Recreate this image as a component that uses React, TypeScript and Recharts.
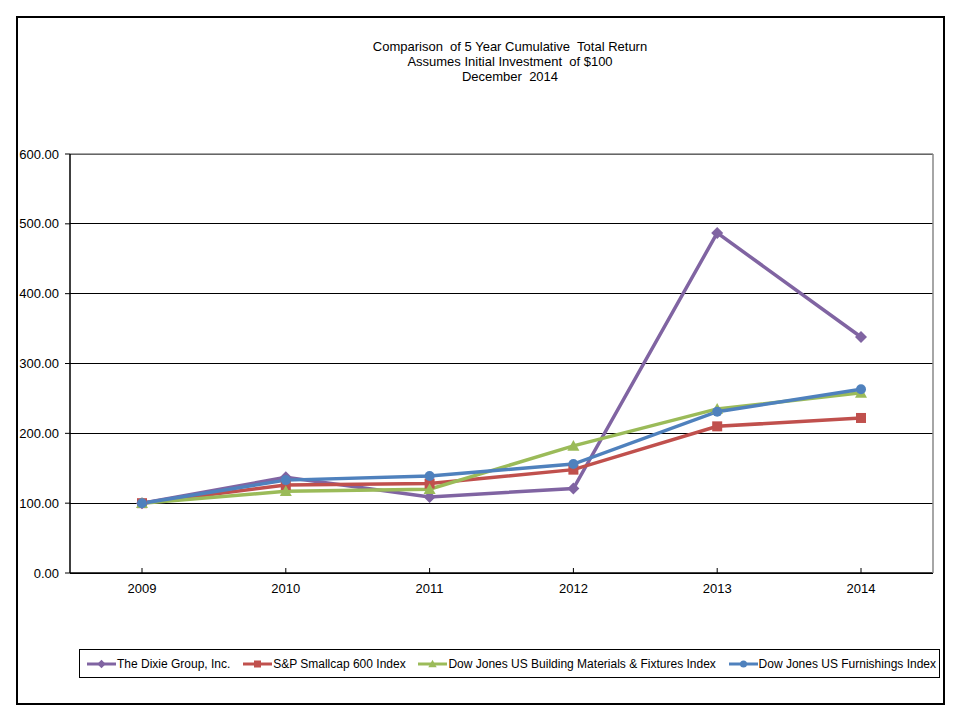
import React from 'react';
import {
  LineChart,
  Line,
  XAxis,
  YAxis,
  CartesianGrid,
  ReferenceLine,
} from 'recharts';

const YEARS = ['2009', '2010', '2011', '2012', '2013', '2014'];
const DIXIE = [100, 137, 109, 121, 487, 338];
const SP600 = [100, 126, 128, 148, 210, 222];
const BUILDING = [100, 117, 120, 182, 235, 258];
const FURNISHINGS = [100, 133, 139, 156, 231, 263];
const Y_TICKS = [0, 100, 200, 300, 400, 500, 600];
const TITLE_LINES = [
  'Comparison  of 5 Year Cumulative  Total Return',
  'Assumes Initial Investment  of $100',
  'December  2014',
];

type MarkerKind = 'diamond' | 'square' | 'triangle' | 'circle';

const SERIES: { key: string; name: string; color: string; marker: MarkerKind; values: number[] }[] = [
  { key: 'dixie', name: 'The Dixie Group, Inc.', color: '#8064A2', marker: 'diamond', values: DIXIE },
  { key: 'sp600', name: 'S&P Smallcap 600 Index', color: '#C0504D', marker: 'square', values: SP600 },
  { key: 'building', name: 'Dow Jones US Building Materials & Fixtures Index', color: '#9BBB59', marker: 'triangle', values: BUILDING },
  { key: 'furnishings', name: 'Dow Jones US Furnishings Index', color: '#4F81BD', marker: 'circle', values: FURNISHINGS },
];

const chartData = YEARS.map((year, i) => {
  const row: Record<string, string | number> = { year };
  SERIES.forEach((s) => {
    row[s.key] = s.values[i];
  });
  return row;
});

const FONT = '"Liberation Sans", Arial, sans-serif';

function Marker({ kind, cx, cy, color, s = 1 }: { kind: MarkerKind; cx: number; cy: number; color: string; s?: number }) {
  if (kind === 'diamond') {
    const r = 6 * s;
    return <polygon points={`${cx},${cy - r} ${cx + r},${cy} ${cx},${cy + r} ${cx - r},${cy}`} fill={color} />;
  }
  if (kind === 'square') {
    const r = 5 * s;
    return <rect x={cx - r} y={cy - r} width={2 * r} height={2 * r} fill={color} />;
  }
  if (kind === 'triangle') {
    const r = 6 * s;
    return <polygon points={`${cx},${cy - r} ${cx + r},${cy + r * 0.8} ${cx - r},${cy + r * 0.8}`} fill={color} />;
  }
  return <circle cx={cx} cy={cy} r={5 * s} fill={color} />;
}

function makeDot(kind: MarkerKind, color: string) {
  return (props: any) => {
    const { cx, cy, index } = props;
    if (cx == null || cy == null) return <g key={`d-${index}`} />;
    return (
      <g key={`d-${kind}-${index}`}>
        <Marker kind={kind} cx={cx} cy={cy} color={color} />
      </g>
    );
  };
}

export default function App() {
  return (
    <div style={{ position: 'absolute', left: 0, top: 0, width: 960, height: 720, background: '#fff', fontFamily: FONT }}>
      <div
        style={{
          position: 'absolute',
          left: 16,
          top: 16,
          width: 929,
          height: 689,
          border: '2px solid #000',
          boxSizing: 'border-box',
        }}
      />
      <div
        style={{
          position: 'absolute',
          left: 330,
          top: 39,
          width: 360,
          textAlign: 'center',
          fontSize: 13,
          lineHeight: '15px',
          whiteSpace: 'pre',
          color: '#000',
        }}
      >
        {TITLE_LINES.map((t) => (
          <div key={t}>{t}</div>
        ))}
      </div>

      <div style={{ position: 'absolute', left: 0, top: 0 }}>
        <LineChart
          width={960}
          height={720}
          data={chartData}
          margin={{ top: 154, right: 26, bottom: 146, left: 69 }}
        >
          <CartesianGrid vertical={false} stroke="#000" strokeWidth={1} shapeRendering="crispEdges" />
          <XAxis
            dataKey="year"
            height={1}
            padding={{ left: 72, right: 72 }}
            axisLine={{ stroke: '#000', strokeWidth: 1.5 }}
            tickLine={{ stroke: '#000' }}
            tickSize={-5}
            tickMargin={16}
            tick={{ fill: '#000', fontSize: 13, fontFamily: FONT }}
          />
          <YAxis
            width={1}
            domain={[0, 600]}
            ticks={Y_TICKS}
            interval={0}
            tickFormatter={(v: number) => v.toFixed(2)}
            axisLine={{ stroke: '#000', strokeWidth: 1.5 }}
            tickLine={{ stroke: '#000' }}
            tickSize={5}
            tickMargin={6}
            tick={{ fill: '#000', fontSize: 13, fontFamily: FONT }}
          />
          <YAxis
            yAxisId="right"
            orientation="right"
            width={1}
            domain={[0, 600]}
            tick={false}
            tickLine={false}
            axisLine={{ stroke: '#888', strokeWidth: 1.5 }}
          />
          <ReferenceLine y={600} stroke="#888" strokeWidth={1.5} />
          {SERIES.map((s) => (
            <Line
              key={s.key}
              type="linear"
              dataKey={s.key}
              name={s.name}
              stroke={s.color}
              strokeWidth={3.5}
              dot={makeDot(s.marker, s.color)}
              activeDot={false}
              isAnimationActive={false}
            />
          ))}
        </LineChart>
      </div>

      <div
        style={{
          position: 'absolute',
          left: 79,
          top: 649,
          width: 861,
          height: 29,
          border: '1px solid #000',
          boxSizing: 'border-box',
          display: 'flex',
          alignItems: 'center',
          justifyContent: 'space-between',
          paddingLeft: 7,
          paddingRight: 3,
          fontSize: 12,
          color: '#000',
        }}
      >
        {SERIES.map((s) => (
          <div key={s.key} style={{ display: 'flex', alignItems: 'center', whiteSpace: 'nowrap' }}>
            <svg width={29} height={10} style={{ marginRight: 1 }}>
              <line x1={0} y1={5} x2={29} y2={5} stroke={s.color} strokeWidth={3} />
              <Marker kind={s.marker} cx={14.5} cy={5} color={s.color} s={0.7} />
            </svg>
            <span>{s.name}</span>
          </div>
        ))}
      </div>
    </div>
  );
}
